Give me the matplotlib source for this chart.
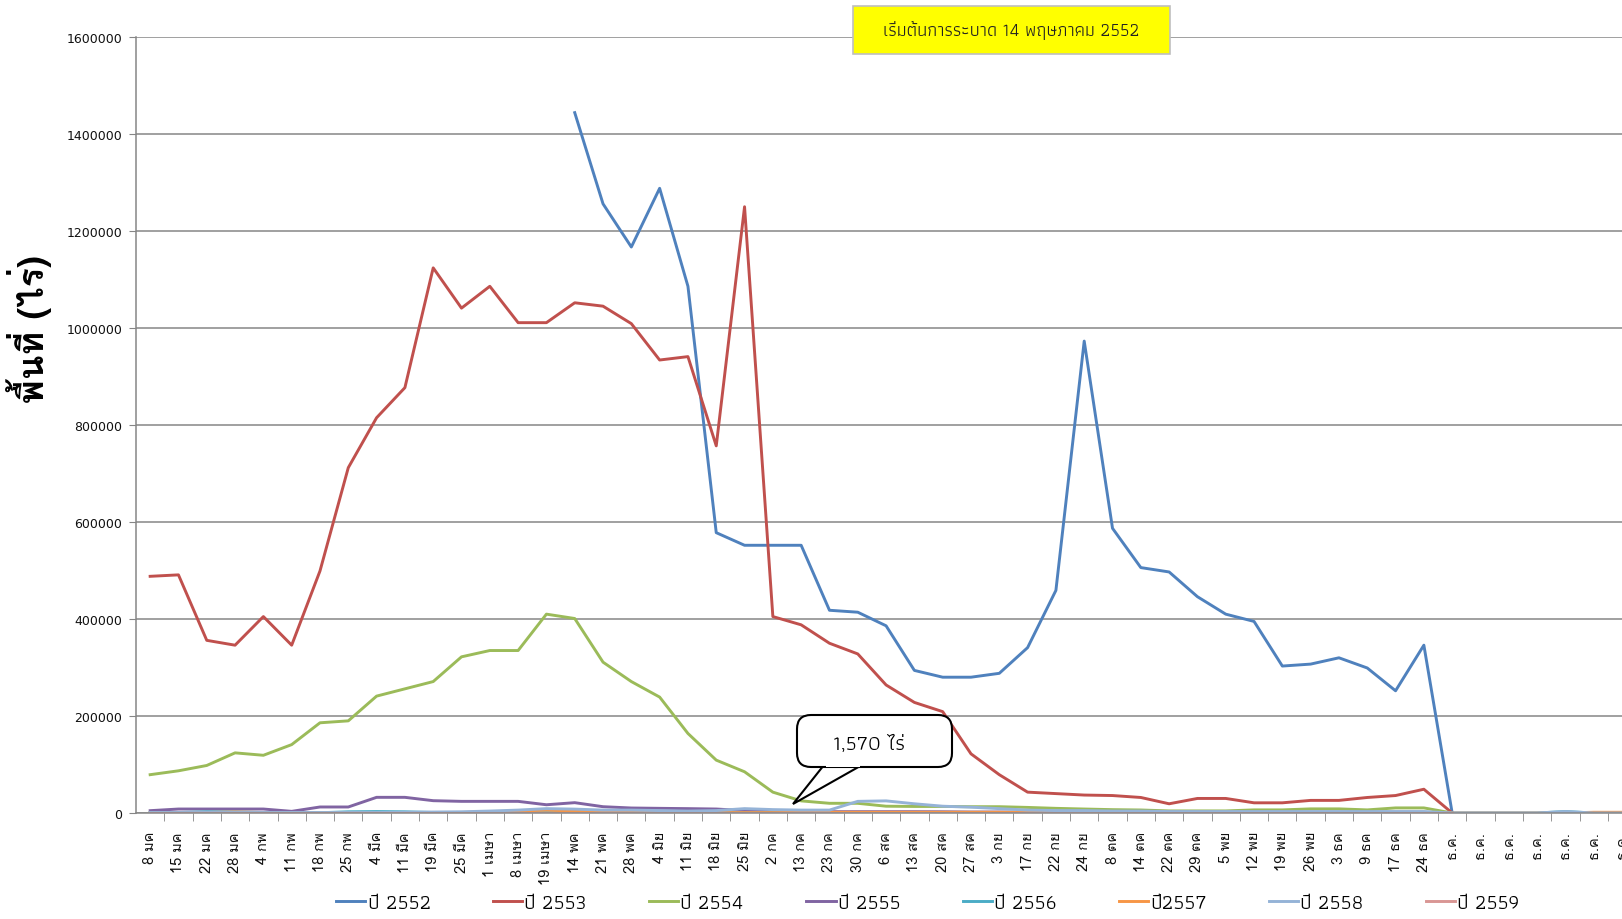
import numpy as np
import matplotlib
matplotlib.use('Agg')
import matplotlib.pyplot as plt
from matplotlib import font_manager, ft2font
from matplotlib.patches import FancyBboxPatch, Polygon, Rectangle

# installed fonts that have Thai glyphs
thai_fonts = set()
for f in font_manager.fontManager.ttflist:
    try:
        if ft2font.FT2Font(f.fname).get_char_index(0x0E1E):
            thai_fonts.add(f.name)
    except Exception:
        pass


def pick(*names):
    for n in names:
        if n in thai_fonts:
            return [n, 'DejaVu Sans']
    return sorted(thai_fonts)[:1] + ['DejaVu Sans']


TICK_FONT = pick('Loma', 'Umpush', 'Tlwg Typo', 'Noto Sans Thai')
NARROW_FONT = pick('Athiti', 'Anuphan', 'Noto Sans Thai', 'Loma')
LABEL_FONT = pick('Loma', 'Umpush', 'Noto Sans Thai')
plt.rcParams['font.family'] = TICK_FONT

categories = ['8 มค', '15 มค', '22 มค', '28 มค', '4 กพ', '11 กพ', '18 กพ', '25 กพ',
              '4 มีค', '11 มีค', '19 มีค', '25 มีค', '1 เมษา', '8 เมษา', '19 เมษา',
              '14 พค', '21 พค', '28 พค', '4 มิย', '11 มิย', '18 มิย', '25 มิย',
              '2 กค', '13 กค', '23 กค', '30 กค', '6 สค', '13 สค', '20 สค', '27 สค',
              '3 กย', '17 กย', '22 กย', '24 กย', '8 ตค', '14 ตค', '22 ตค', '29 ตค',
              '5 พย', '12 พย', '19 พย', '26 พย', '3 ธค', '9 ธค', '17 ธค', '24 ธค',
              'ธ.ค.', 'ธ.ค.', 'ธ.ค.', 'ธ.ค.', 'ธ.ค.', 'ธ.ค.', 'ธ.ค.']

y2552 = [None] * 15 + [1444000, 1256000, 1167000, 1288000, 1086000, 578000, 552000,
                       552000, 552000, 418000, 414000, 386000, 294000, 280000, 280000,
                       288000, 341000, 459000, 973000, 587000, 506000, 497000, 446000,
                       410000, 395000, 303000, 307000, 320000, 299000, 252000, 346000, 0]
y2553 = [488000, 491000, 356000, 346000, 405000, 346000, 499000, 712000, 815000, 877000,
         1124000, 1041000, 1086000, 1011000, 1011000, 1052000, 1045000, 1009000, 934000,
         941000, 757000, 1250000, 405000, 388000, 350000, 328000, 264000, 228000, 209000,
         122000, 79000, 43000, 40000, 37000, 36000, 32000, 19000, 30000, 30000, 21000,
         21000, 26000, 26000, 32000, 36000, 49000, 0]
y2554 = [79000, 87000, 98000, 124000, 119000, 141000, 186000, 190000, 241000, 256000,
         271000, 322000, 335000, 335000, 410000, 401000, 311000, 271000, 239000, 164000,
         109000, 85000, 43000, 25000, 20000, 20000, 14000, 13500, 13500, 13000, 13000,
         11500, 9600, 8200, 6900, 6200, 4300, 4300, 4300, 6400, 6400, 8500, 8500, 6400,
         10500, 10500, 0]
y2555 = [4800, 8200, 8200, 8200, 8200, 3400, 12400, 12400, 32300, 32300, 25400, 24000,
         24000, 24000, 17000, 21300, 13000, 10300, 9600, 9000, 8200, 5000, 5000, 3400,
         2700, 2700, 2700, 2700, 2500, 2000, 2000, 1500, 1500, 1500, 1500, 1500, 1500,
         1500, 1500, 1500, 1500, 1500, 1500, 1500, 1500, 1500, 0]
y2556 = [500, 1000, 2500, 2000, 1000, 500, 500, 2500, 3000, 2500, 1000, 800, 800, 800,
         800, 800, 800, 800, 800, 800, 800, 800, 800, 800, 800, 800, 800, 800, 800, 800,
         800, 800, 800, 800, 800, 800, 800, 800, 800, 800, 800, 800, 800, 800, 800, 800,
         0, 0, 0, 0, 3000, 0, 0]
y2557 = [300, 500, 1000, 2000, 1000, 300, 300, 300, 300, 300, 500, 1000, 2500, 4000,
         6000, 4000, 1500, 1000, 800, 800, 800, 800, 800, 1500, 1500, 1500, 1500, 1500,
         1500, 1500, 1500, 1500, 1500, 1200, 1000, 1000, 1000, 1000, 1000, 1000, 1000,
         1000, 1000, 1000, 1000, 1000, 0, 0, 0, 0, 0, 1500, 1500]
y2558 = [1000, 1000, 1000, 1000, 1000, 1000, 1000, 1000, 1000, 1500, 2000, 2500, 4000,
         6000, 9000, 8000, 6000, 6000, 5000, 4000, 5000, 9000, 7000, 6000, 6000, 24000,
         25000, 19000, 14000, 12000, 9000, 6000, 5000, 5000, 4000, 4000, 3000, 3000, 3000,
         3000, 3000, 3000, 3000, 3000, 3000, 3000, 0, 0, 0, 0, 3000, 0, 0]
y2559 = [0] * 47

series_labels = ['ปี 2552', 'ปี 2553', 'ปี 2554', 'ปี 2555', 'ปี 2556', 'ปี2557', 'ปี 2558', 'ปี 2559']
series_values = [y2552, y2553, y2554, y2555, y2556, y2557, y2558, y2559]
series_colors = ['#4F81BD', '#C0504D', '#9BBB59', '#8064A2', '#4BACC6', '#F79646', '#95B3D7', '#D99694']

W, H = 1622, 920
STEP = 28.33  # pixel width of one category
fig = plt.figure(figsize=(W / 100, H / 100), dpi=100)
ax = fig.add_axes([136 / W, 1 - 814 / H, (W - 136) / W, (814 - 38) / H])

x = np.arange(len(categories))
lines = []
for label, vals, color in zip(series_labels, series_values, series_colors):
    v = np.array([np.nan if a is None else a for a in vals], dtype=float)
    ln, = ax.plot(x[:len(v)], v, color=color, lw=2.1, label=label, solid_joinstyle='round')
    lines.append(ln)

ax.set_ylim(0, 1600000)
ax.set_xlim(-0.5, -0.5 + (W - 136) / STEP)
ax.set_yticks(np.arange(0, 1600001, 200000))
ax.yaxis.set_major_formatter(plt.FuncFormatter(lambda v, p: f'{int(v)}'))
ax.tick_params(axis='y', labelsize=9, length=5, color='#868686', labelcolor='#111111', pad=5)
for t in ax.get_yticklabels():
    t.set_family('DejaVu Sans')
ax.grid(axis='y', color='#868686', lw=1.1)
ax.set_axisbelow(True)

ax.set_xticks(x)
ax.set_xticklabels(categories, rotation=90, fontsize=10.5)
ax.tick_params(axis='x', length=0, pad=13, labelcolor='#111111')
ax.set_xticks(x[:-1] + 0.5, minor=True)
ax.tick_params(axis='x', which='minor', length=6, color='#868686')

for s in ['top', 'right']:
    ax.spines[s].set_visible(False)
for s in ['left', 'bottom']:
    ax.spines[s].set_color('#868686')
    ax.spines[s].set_linewidth(1.1)

ax.set_ylabel('พื้นที่ (ไร่)', fontsize=26, fontweight='bold', family=LABEL_FONT)
ax.yaxis.set_label_coords((52 - 136) / (W - 136), (814 - 329) / 776)

fig.legend(handles=lines, labels=series_labels, loc='center', bbox_to_anchor=(928 / W, 1 - 904 / H),
           ncol=8, frameon=False, prop={'family': NARROW_FONT, 'size': 15},
           handlelength=1.4, handletextpad=0.1, columnspacing=3.0)

# overlay in pixel coordinates for the boxes
ov = fig.add_axes([0, 0, 1, 1], zorder=5)
ov.set_xlim(0, W)
ov.set_ylim(H, 0)
ov.axis('off')

ov.add_patch(Rectangle((853, 7), 317, 48, fc='#FFFF00', ec='#BFBFBF', lw=1.2))
ov.text(1011, 31, 'เริ่มต้นการระบาด 14 พฤษภาคม 2552', ha='center', va='center', fontsize=13,
        color='#222222', family=NARROW_FONT)

ov.add_patch(Polygon([(824, 766), (793, 805), (862, 766)], closed=True, fc='white',
                     ec='black', lw=1.5))
ov.add_patch(FancyBboxPatch((803, 722), 143, 40, boxstyle='round,pad=6,rounding_size=14',
                            fc='white', ec='black', lw=1.5))
ov.add_patch(Rectangle((826, 758), 34, 10, fc='white', ec='none'))
ov.text(869, 745, '1,570 ไร่', ha='center', va='center', fontsize=15, color='black',
        family=NARROW_FONT)

fig.savefig('out.png', dpi=100)
